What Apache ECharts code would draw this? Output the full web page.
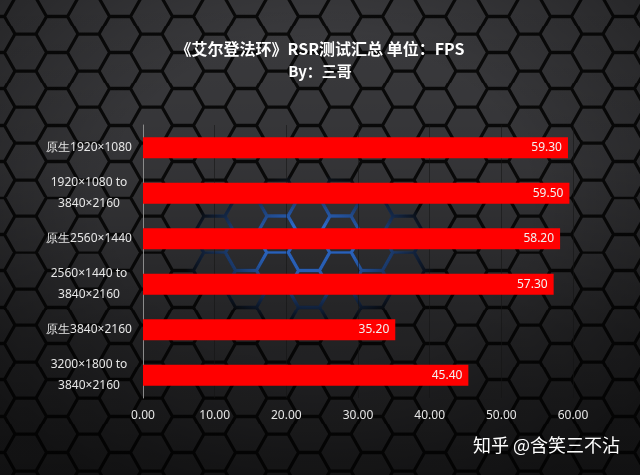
<!DOCTYPE html>
<html>
<head>
<meta charset="utf-8">
<script src="https://cdn.jsdelivr.net/npm/echarts@6/dist/echarts.min.js"></script>
<style>
html,body{margin:0;padding:0;width:640px;height:475px;overflow:hidden;background:#2a2a2c;}
#bg,#glow,#shade,#chart{position:absolute;left:0;top:0;width:640px;height:475px;}
#bg{background-color:#3a3a3d;}
#glow{-webkit-mask-image:radial-gradient(ellipse 130px 75px at 310px 250px,#000 35%,transparent 100%);mask-image:radial-gradient(ellipse 130px 75px at 310px 250px,#000 35%,transparent 100%);}
#shade{background:linear-gradient(to bottom,rgba(0,0,0,0) 0%,rgba(0,0,0,0.12) 35%,rgba(0,0,0,0.42) 70%,rgba(0,0,0,0.55) 100%),radial-gradient(ellipse 420px 320px at 320px 200px,rgba(0,0,0,0) 50%,rgba(0,0,0,0.35) 100%);}
</style>
</head>
<body>
<div id="bg"></div>
<div id="glow"></div>
<div id="shade"></div>
<div id="chart"></div>
<script>
// ---- data ----
var categories = ['原生1920×1080', '1920×1080 to\n3840×2160', '原生2560×1440', '2560×1440 to\n3840×2160', '原生3840×2160', '3200×1800 to\n3840×2160'];
var fpsValues = [59.30, 59.50, 58.20, 57.30, 35.20, 45.40];
var titleText = '《艾尔登法环》RSR测试汇总 单位：FPS';
var subtitleText = 'By：三哥';
var watermarkText = '知乎 @含笑三不沾';

// ---- decorative hex background ----
function hexSvg(stroke, width, fill) {
  var s = 21, h = s * Math.sqrt(3) / 2;
  var W = 3 * s, H = 2 * h;
  var d = 'M' + (0.5 * s) + ',' + h + ' L' + s + ',0 L' + (2 * s) + ',0 L' + (2.5 * s) + ',' + h +
    ' L' + (2 * s) + ',' + H + ' L' + s + ',' + H + ' Z M0,' + h + ' L' + (0.5 * s) + ',' + h +
    ' M' + (2.5 * s) + ',' + h + ' L' + W + ',' + h;
  var svg = '<svg xmlns="http://www.w3.org/2000/svg" width="' + W + '" height="' + H.toFixed(2) + '">' +
    (fill ? '<rect width="100%" height="100%" fill="' + fill + '"/>' : '') +
    '<path d="' + d + '" fill="none" stroke="' + stroke + '" stroke-width="' + width + '"/></svg>';
  return 'url("data:image/svg+xml;utf8,' + encodeURIComponent(svg) + '")';
}
var bg = document.getElementById('bg');
bg.style.backgroundImage = hexSvg('#0a0a0a', 3.2, '#3b3b3e');
bg.style.backgroundPosition = '-6px -2px';
var glow = document.getElementById('glow');
glow.style.backgroundImage = hexSvg('#3a86ff', 3.4, null);
glow.style.backgroundPosition = '-6px -2px';

// ---- chart ----
var chart = echarts.init(document.getElementById('chart'), null, {renderer: 'canvas'});
chart.setOption({
  backgroundColor: 'transparent',
  title: {
    text: titleText,
    subtext: subtitleText,
    left: 'center',
    top: 36,
    itemGap: 7,
    textStyle: {color: '#ffffff', fontSize: 16, fontWeight: 'bold', fontFamily: 'Noto Sans CJK SC'},
    subtextStyle: {color: '#ffffff', fontSize: 15, fontWeight: 'bold', fontFamily: 'Noto Sans CJK SC'}
  },
  grid: {left: 143, right: 67, top: 125, bottom: 77, containLabel: false},
  xAxis: {
    type: 'value',
    min: 0, max: 60, interval: 10,
    axisLine: {show: false},
    axisTick: {show: false},
    axisLabel: {color: '#e6e6e6', fontSize: 12, margin: 12, fontFamily: 'Noto Sans',
      formatter: function (v) { return v.toFixed(2); }},
    splitLine: {show: true, lineStyle: {color: 'rgba(20,20,20,0.55)', width: 1}}
  },
  yAxis: {
    type: 'category',
    data: categories,
    inverse: true,
    axisLine: {show: true, lineStyle: {color: '#8a8a8a', width: 1}},
    axisTick: {show: false},
    axisLabel: {color: '#e6e6e6', fontSize: 12, margin: 54, lineHeight: 21, align: 'center', fontFamily: 'Noto Sans'}
  },
  series: [{
    type: 'bar',
    data: fpsValues,
    barWidth: 21,
    itemStyle: {color: '#ff0000'},
    label: {
      show: true, position: 'insideRight', distance: 6,
      color: '#f2f2f2', fontSize: 12, fontFamily: 'Noto Sans',
      formatter: function (p) { return p.value.toFixed(2); }
    }
  }],
  graphic: [{
    type: 'text',
    right: 20, bottom: 21,
    style: {text: watermarkText, fill: '#ffffff', font: '18px "Noto Sans CJK SC"'}
  }]
});
</script>
</body>
</html>
